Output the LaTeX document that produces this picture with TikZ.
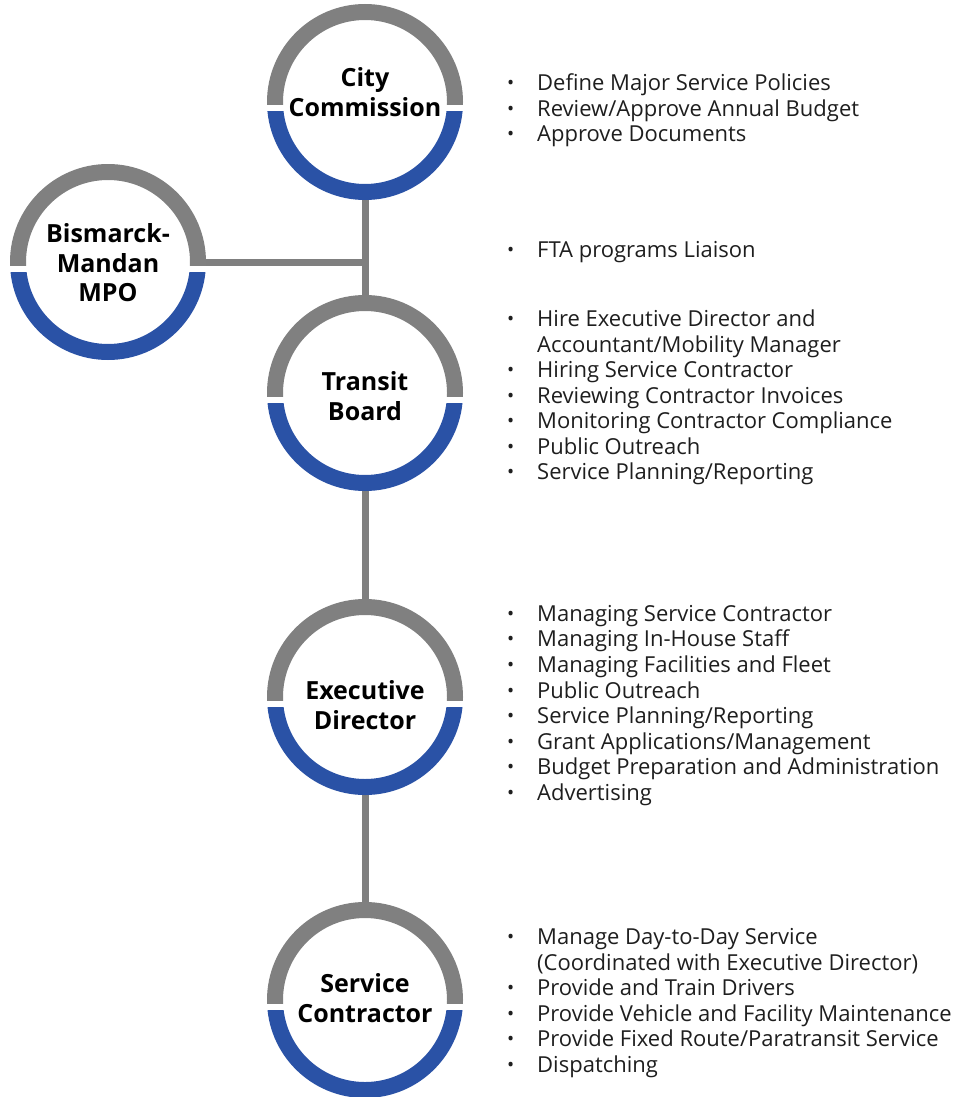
\documentclass[tikz,border=0pt]{standalone}
\usepackage{fontspec}
\setmainfont{Open Sans}
\definecolor{ringgray}{HTML}{808080}
\definecolor{ringblue}{HTML}{2A52A6}
\definecolor{linegray}{HTML}{7F7F7F}
\definecolor{listtext}{HTML}{1E1E1E}
% bullet hung to the left of an item's text
\newcommand\bul{\llap{{\fontsize{19}{19}\selectfont\raisebox{1pt}{•}}\hspace{23pt}}}
% grey upper half and blue lower half of a role ring
\newcommand\halfring[1]{%
  \begin{scope}
    \clip ([shift={(-100,-100)}]#1.center) rectangle ([shift={(100,3)}]#1.center);
    \fill[ringgray,even odd rule] (#1.center) circle[radius=98] (#1.center) circle[radius=82];
  \end{scope}
  \begin{scope}
    \clip ([shift={(-100,10)}]#1.center) rectangle ([shift={(100,100)}]#1.center);
    \fill[ringblue,even odd rule] (#1.center) circle[radius=98] (#1.center) circle[radius=82];
  \end{scope}}
\begin{document}
\begin{tikzpicture}[x=1pt,y=-1pt,
  role/.style={circle,minimum size=196pt,inner sep=0pt},
  rolename/.style={align=center,inner sep=0pt,font=\bfseries\fontsize{25}{29.5}\selectfont},
  link/.style={draw=linegray,line width=7pt},
  item/.style={anchor=base west,inner sep=0pt,font=\fontsize{22}{25}\selectfont,text=listtext}]
\useasboundingbox (0,0) rectangle (958,1097);

% role circles
\node[role] (cc)  at (365,102)  {};
\node[role] (mpo) at (108,262)  {};
\node[role] (tb)  at (365,393)  {};
\node[role] (ed)  at (365,697)  {};
\node[role] (sc)  at (365,1000) {};

% connectors
\coordinate (j) at (cc.center |- mpo.center);
\draw[link] (cc) -- (tb);
\draw[link] (mpo) -- (j);
\draw[link] (tb) -- (ed);
\draw[link] (ed) -- (sc);

% rings
\halfring{cc}
\halfring{mpo}
\halfring{tb}
\halfring{ed}
\halfring{sc}

% role names (yshift is upward on the page)
\node[rolename] (ccname)  at ([yshift=10]cc.center)  {City\\Commission};
\node[rolename] (mponame) at ([yshift=-1]mpo.center) {Bismarck-\\Mandan\\MPO};
\node[rolename] (tbname)  at ([yshift=-3]tb.center)  {Transit\\Board};
\node[rolename] (edname)  at ([yshift=-8]ed.center)  {Executive\\Director};
\node[rolename] (scname)  at ([yshift=2]sc.center)   {Service\\Contractor};

% duties of the city commission
\node[item] (cc1) at (537,91)  {\bul Define Major Service Policies};
\node[item] (cc2) at (537,117) {\bul Review/Approve Annual Budget};
\node[item] (cc3) at (537,142) {\bul Approve Documents};

% duties of the MPO
\node[item] (mpo1) at (537,257) {\bul FTA programs Liaison};

% duties of the transit board
\node[item] (tb1) at (537,326) {\bul Hire Executive Director and};
\node[item] (tb2) at (537,352) {Accountant/Mobility Manager};
\node[item] (tb3) at (537,377) {\bul Hiring Service Contractor};
\node[item] (tb4) at (537,403) {\bul Reviewing Contractor Invoices};
\node[item] (tb5) at (537,428) {\bul Monitoring Contractor Compliance};
\node[item] (tb6) at (537,454) {\bul Public Outreach};
\node[item] (tb7) at (537,479) {\bul Service Planning/Reporting};

% duties of the executive director
\node[item] (ed1) at (537,621) {\bul Managing Service Contractor};
\node[item] (ed2) at (537,646) {\bul Managing In-House Staff};
\node[item] (ed3) at (537,672) {\bul Managing Facilities and Fleet};
\node[item] (ed4) at (537,698) {\bul Public Outreach};
\node[item] (ed5) at (537,723) {\bul Service Planning/Reporting};
\node[item] (ed6) at (537,749) {\bul Grant Applications/Management};
\node[item] (ed7) at (537,774) {\bul Budget Preparation and Administration};
\node[item] (ed8) at (537,800) {\bul Advertising};

% duties of the service contractor
\node[item] (sc1) at (537,944)  {\bul Manage Day-to-Day Service};
\node[item] (sc2) at (537,970)  {(Coordinated with Executive Director)};
\node[item] (sc3) at (537,995)  {\bul Provide and Train Drivers};
\node[item] (sc4) at (537,1021) {\bul Provide Vehicle and Facility Maintenance};
\node[item] (sc5) at (537,1046) {\bul Provide Fixed Route/Paratransit Service};
\node[item] (sc6) at (537,1072) {\bul Dispatching};
\end{tikzpicture}
\end{document}
